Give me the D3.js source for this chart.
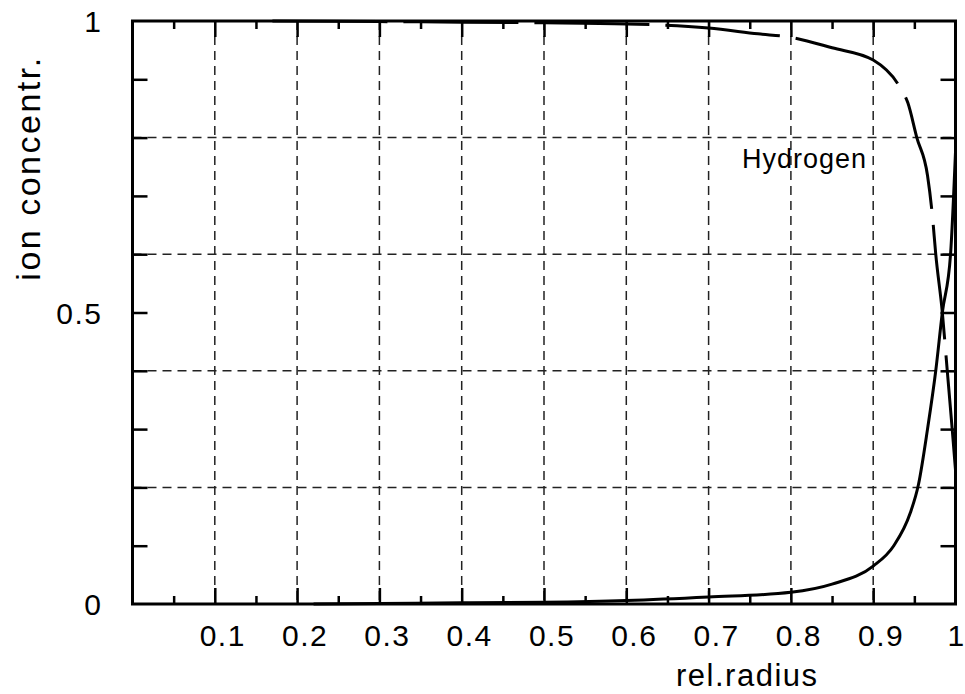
<!DOCTYPE html>
<html>
<head>
<meta charset="utf-8">
<script src="https://cdn.jsdelivr.net/npm/d3@7"></script>
<style>
  body { margin: 0; background: #fff; }
  text { font-family: "Liberation Sans", Arial, sans-serif; fill: #000; }
</style>
</head>
<body>
<svg id="chart"></svg>
<script>
// data
const hydrogenR = [0.17, 0.3, 0.4, 0.5, 0.6, 0.7, 0.76, 0.8, 0.85, 0.9, 0.933, 0.942, 0.953, 0.966, 0.972, 0.976, 0.984, 0.99, 0.996, 1.0];
const hydrogenC = [1.0, 0.999, 0.998, 0.997, 0.995, 0.988, 0.978, 0.972, 0.954, 0.933, 0.885, 0.86, 0.80, 0.735, 0.665, 0.60, 0.50, 0.40, 0.30, 0.23];
const otherR = [0.22, 0.3, 0.4, 0.5, 0.6, 0.7, 0.8, 0.85, 0.9, 0.925, 0.945, 0.955, 0.966, 0.976, 0.984, 0.994, 1.0];
const otherC = [0.0, 0.001, 0.002, 0.003, 0.006, 0.012, 0.02, 0.034, 0.065, 0.1, 0.156, 0.205, 0.3, 0.4, 0.5, 0.6, 0.775];

const xMajor = [0.1, 0.2, 0.3, 0.4, 0.5, 0.6, 0.7, 0.8, 0.9];
const xMinor = [0.05, 0.15, 0.25, 0.35, 0.45, 0.55, 0.65, 0.75, 0.85, 0.95];
const xLabels = ["0.1", "0.2", "0.3", "0.4", "0.5", "0.6", "0.7", "0.8", "0.9", "1"];
const xLabelVals = [0.1, 0.2, 0.3, 0.4, 0.5, 0.6, 0.7, 0.8, 0.9, 1];
const yTicks = [0.1, 0.2, 0.3, 0.4, 0.5, 0.6, 0.7, 0.8, 0.9];
const yGrid = [0.2, 0.4, 0.6, 0.8];
const yLabels = ["0", "0.5", "1"];
const yLabelVals = [0, 0.5, 1];

// layout
const margin = {top: 21, right: 9.5, bottom: 90, left: 132.5};
const width = 965 - margin.left - margin.right;
const height = 694 - margin.top - margin.bottom;

const svg = d3.select('#chart')
    .attr('width', 965)
    .attr('height', 694)
    .append('g')
    .attr('transform', 'translate(' + margin.left + ',' + margin.top + ')');

const x = d3.scaleLinear().domain([0, 1]).range([0, width]);
const y = d3.scaleLinear().domain([0, 1]).range([height, 0]);

// grid
svg.append('g').selectAll('line')
    .data(xMajor).enter().append('line')
    .attr('x1', d => x(d)).attr('x2', d => x(d))
    .attr('y1', 0).attr('y2', height)
    .attr('stroke', '#222').attr('stroke-width', 1.5)
    .attr('stroke-dasharray', '9,6');
svg.append('g').selectAll('line')
    .data(yGrid).enter().append('line')
    .attr('x1', 0).attr('x2', width)
    .attr('y1', d => y(d)).attr('y2', d => y(d))
    .attr('stroke', '#222').attr('stroke-width', 1.5)
    .attr('stroke-dasharray', '9,6');

// ticks (inward), drawn with axes
function ticks(axis, values, size, transform) {
  const g = svg.append('g')
      .attr('transform', transform)
      .call(axis.tickValues(values).tickSize(size).tickFormat(''));
  g.select('.domain').remove();
  g.selectAll('line').attr('stroke', '#000').attr('stroke-width', 2.5);
}
ticks(d3.axisBottom(x), xMajor, -16, 'translate(0,' + height + ')');
ticks(d3.axisBottom(x), xMinor, -8, 'translate(0,' + height + ')');
ticks(d3.axisTop(x), xMajor, -16, 'translate(0,0)');
ticks(d3.axisTop(x), xMinor, -8, 'translate(0,0)');
ticks(d3.axisLeft(y), yTicks, -15, 'translate(0,0)');
ticks(d3.axisRight(y), yTicks, -15, 'translate(' + width + ',0)');

// curves
const line = d3.line()
    .x(d => x(d[0]))
    .y(d => y(d[1]))
    .curve(d3.curveMonotoneX);

svg.append('path')
    .datum(d3.zip(otherR, otherC))
    .attr('d', line)
    .attr('fill', 'none').attr('stroke', '#000').attr('stroke-width', 3);

svg.append('path')
    .datum(d3.zip(hydrogenR, hydrogenC))
    .attr('d', line)
    .attr('fill', 'none').attr('stroke', '#000').attr('stroke-width', 3)
    .attr('stroke-dasharray', '115,16');

// frame
svg.append('rect')
    .attr('x', 0).attr('y', 0)
    .attr('width', width).attr('height', height)
    .attr('fill', 'none').attr('stroke', '#000').attr('stroke-width', 3);

// tick labels
svg.append('g').selectAll('text')
    .data(xLabels).enter().append('text')
    .attr('x', (d, i) => x(xLabelVals[i]) + (d.indexOf('.') >= 0 ? 8 : 1))
    .attr('y', height + 42)
    .attr('text-anchor', 'middle')
    .style('font-size', '30px')
    .style('letter-spacing', '1.5px')
    .text(d => d);

svg.append('g').selectAll('text')
    .data(yLabels).enter().append('text')
    .attr('x', -30)
    .attr('y', (d, i) => y(yLabelVals[i]) + 11)
    .attr('text-anchor', 'end')
    .style('font-size', '30px')
    .style('letter-spacing', '1.5px')
    .text(d => d);

// axis titles
svg.append('text')
    .attr('x', x(0.747))
    .attr('y', height + 82)
    .attr('text-anchor', 'middle')
    .style('font-size', '31px')
    .style('letter-spacing', '1.5px')
    .text('rel.radius');

svg.append('text')
    .attr('transform', 'translate(' + (40 - margin.left) + ',' + (168 - margin.top) + ')rotate(-90)')
    .attr('text-anchor', 'middle')
    .style('font-size', '34px')
    .style('letter-spacing', '2.5px')
    .text('ion concentr.');

// annotation
svg.append('text')
    .attr('x', 742 - margin.left)
    .attr('y', 168 - margin.top)
    .style('font-size', '27px')
    .style('letter-spacing', '1px')
    .text('Hydrogen');
</script>
</body>
</html>
